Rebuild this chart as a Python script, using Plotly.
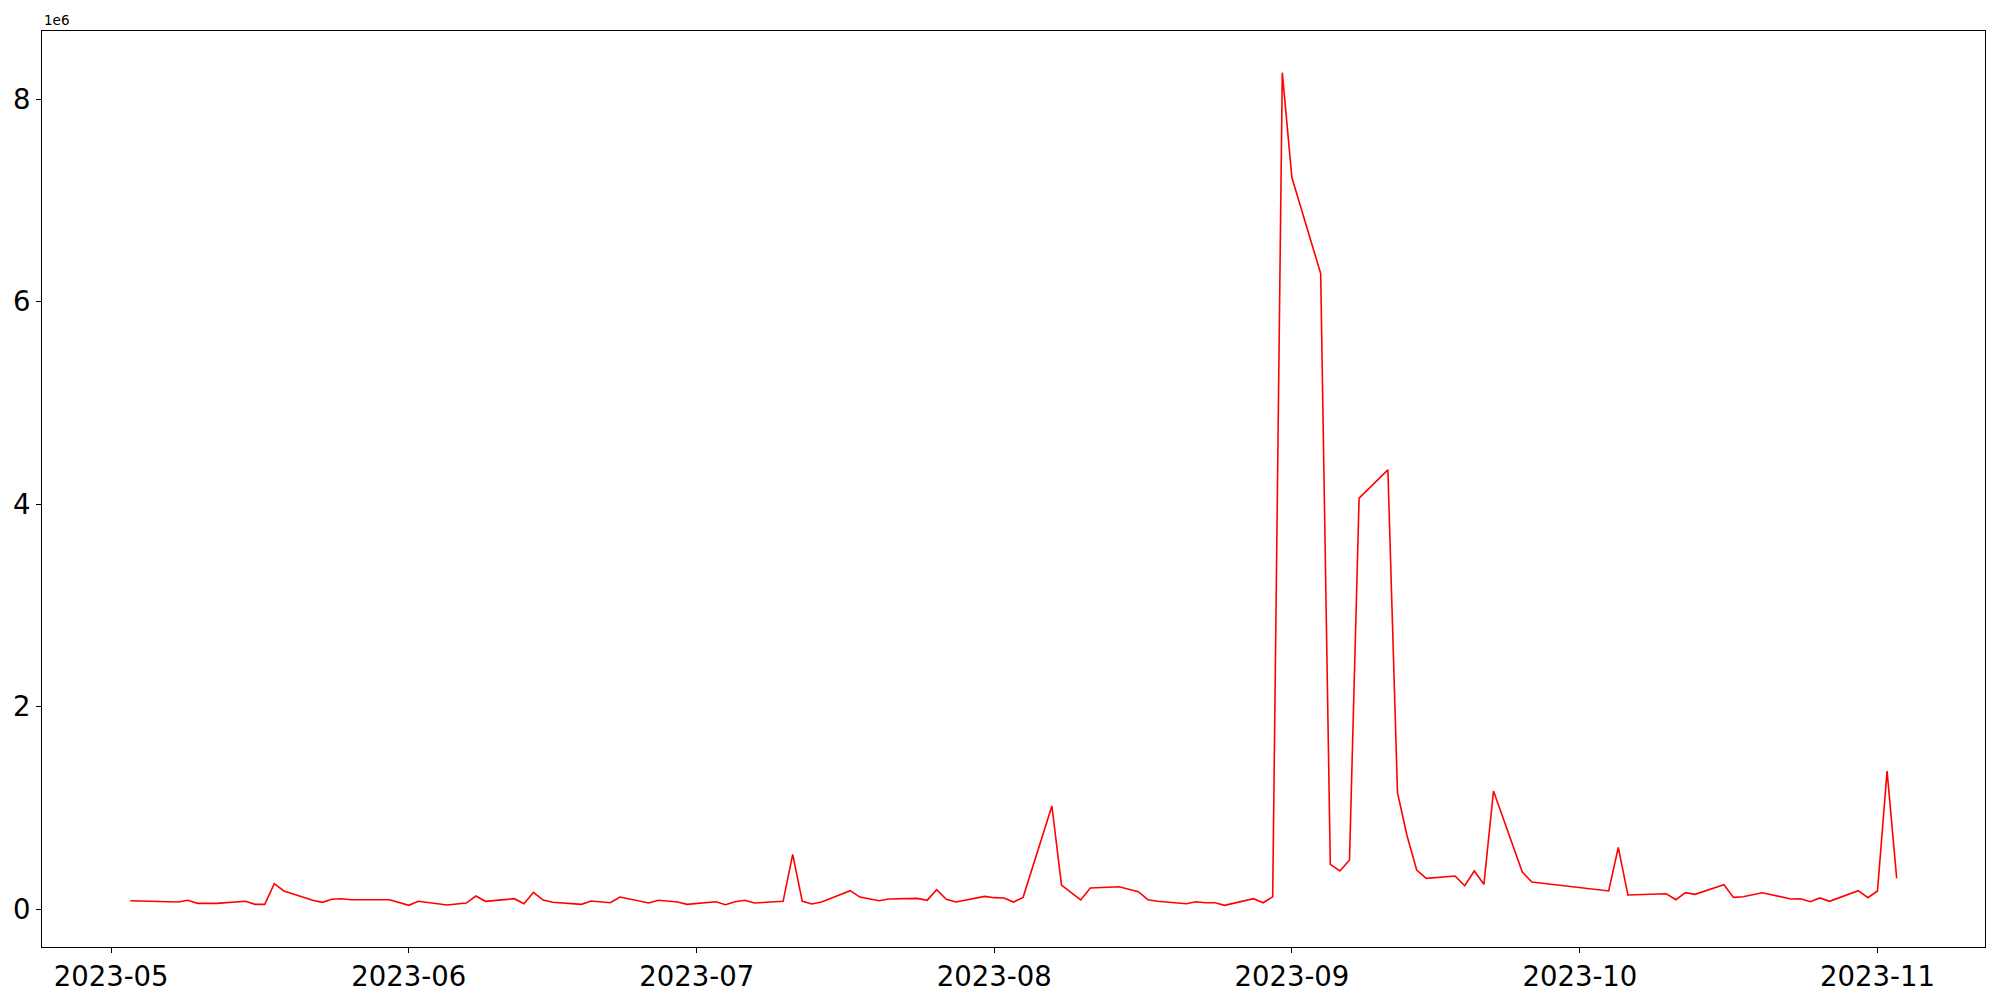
import pandas as pd
import plotly.graph_objects as go

# daily values (gaps are missing days)
dates = [
    "2023-05-03", "2023-05-08", "2023-05-09", "2023-05-10", "2023-05-12",
    "2023-05-15", "2023-05-16", "2023-05-17", "2023-05-18", "2023-05-19",
    "2023-05-22", "2023-05-23", "2023-05-24", "2023-05-25", "2023-05-26",
    "2023-05-30", "2023-06-01", "2023-06-02", "2023-06-05", "2023-06-07",
    "2023-06-08", "2023-06-09", "2023-06-12", "2023-06-13", "2023-06-14",
    "2023-06-15", "2023-06-16", "2023-06-19", "2023-06-20", "2023-06-22",
    "2023-06-23", "2023-06-26", "2023-06-27", "2023-06-29", "2023-06-30",
    "2023-07-03", "2023-07-04", "2023-07-05", "2023-07-06", "2023-07-07",
    "2023-07-10", "2023-07-11", "2023-07-12", "2023-07-13", "2023-07-14",
    "2023-07-17", "2023-07-18", "2023-07-20", "2023-07-21", "2023-07-24",
    "2023-07-25", "2023-07-26", "2023-07-27", "2023-07-28", "2023-07-31",
    "2023-08-01", "2023-08-02", "2023-08-03", "2023-08-04", "2023-08-07",
    "2023-08-08", "2023-08-10", "2023-08-11", "2023-08-14", "2023-08-16",
    "2023-08-17", "2023-08-18", "2023-08-21", "2023-08-22", "2023-08-23",
    "2023-08-24", "2023-08-25", "2023-08-28", "2023-08-29", "2023-08-30",
    "2023-08-31", "2023-09-01", "2023-09-04", "2023-09-05", "2023-09-06",
    "2023-09-07", "2023-09-08", "2023-09-11", "2023-09-12", "2023-09-13",
    "2023-09-14", "2023-09-15", "2023-09-18", "2023-09-19", "2023-09-20",
    "2023-09-21", "2023-09-22", "2023-09-25", "2023-09-26", "2023-10-04",
    "2023-10-05", "2023-10-06", "2023-10-10", "2023-10-11", "2023-10-12",
    "2023-10-13", "2023-10-16", "2023-10-17", "2023-10-18", "2023-10-20",
    "2023-10-23", "2023-10-24", "2023-10-25", "2023-10-26", "2023-10-27",
    "2023-10-30", "2023-10-31", "2023-11-01", "2023-11-02", "2023-11-03",
]

values = [
    85000, 72000, 89000, 59000, 59000,
    79000, 49000, 49000, 253000, 181000,
    89000, 69000, 99000, 105000, 95000,
    95000, 39000, 79000, 42000, 62000,
    131000, 79000, 105000, 55000, 168000,
    92000, 69000, 49000, 82000, 65000,
    121000, 62000, 89000, 72000, 49000,
    75000, 45000, 75000, 89000, 62000,
    79000, 543000, 79000, 52000, 72000,
    184000, 121000, 85000, 102000, 108000,
    89000, 194000, 99000, 72000, 128000,
    115000, 112000, 72000, 118000, 1020000,
    240000, 92000, 210000, 223000, 174000,
    95000, 79000, 55000, 75000, 65000,
    65000, 39000, 105000, 65000, 124000,
    8262000, 7226000, 6278000, 444000, 378000,
    487000, 4060000, 4340000, 1151000, 724000,
    388000, 306000, 329000, 233000, 378000,
    247000, 1168000, 368000, 270000, 181000,
    612000, 141000, 154000, 95000, 164000,
    148000, 243000, 118000, 124000, 164000,
    102000, 105000, 75000, 112000, 79000,
    184000, 115000, 181000, 1365000, 306000,
]

month_ticks = ["2023-05-01", "2023-06-01", "2023-07-01", "2023-08-01",
               "2023-09-01", "2023-10-01", "2023-11-01"]
y_ticks = [0, 2e6, 4e6, 6e6, 8e6]
y_tick_text = ["0", "2", "4", "6", "8"]

x = pd.to_datetime(dates)
# matplotlib-like 5% margins
xpad = (x.max() - x.min()) * 0.05
ypad = (max(values) - min(values)) * 0.05

fig = go.Figure(go.Scatter(
    x=x, y=values, mode="lines",
    line=dict(color="red", width=1.6),
))

axis_common = dict(
    showgrid=False, zeroline=False, automargin=False,
    showline=True, mirror=True, linecolor="black", linewidth=1.1,
    ticks="outside", ticklen=5, tickwidth=1.1, tickcolor="black",
    tickfont=dict(family="DejaVu Sans", size=27.5, color="black"),
)

# page body has an 8px default margin, so the figure is sized to fit inside it
fig.update_layout(
    width=1984, height=984,
    margin=dict(l=34, r=7, t=23, b=45),
    plot_bgcolor="white", paper_bgcolor="white",
    showlegend=False,
    xaxis=dict(range=[x.min() - xpad, x.max() + xpad],
               tickvals=pd.to_datetime(month_ticks), tickformat="%Y-%m",
               **axis_common),
    yaxis=dict(range=[min(values) - ypad, max(values) + ypad],
               tickvals=y_ticks, ticktext=y_tick_text, **axis_common),
    annotations=[dict(
        text="1e6", xref="paper", yref="paper", x=0, y=1,
        xanchor="left", yanchor="bottom", showarrow=False, yshift=1,
        font=dict(family="DejaVu Sans", size=13.5, color="black"),
    )],
)

fig.write_html("out.html")
